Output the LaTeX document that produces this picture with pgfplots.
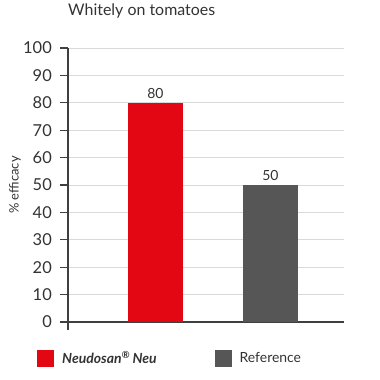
\documentclass[border=0pt]{standalone}
\usepackage{pgfplots}
\pgfplotsset{compat=1.18}
\usepackage{fontspec}
\setmainfont{Lato}
\definecolor{nred}{HTML}{E30613}
\definecolor{ngrey}{HTML}{575656}
\definecolor{gridc}{HTML}{D9D9D9}
\definecolor{axc}{HTML}{3F3F3F}
\definecolor{txt}{HTML}{333333}
\begin{document}
\begin{tikzpicture}
\useasboundingbox (-68bp,-58bp) rectangle (312bp,322bp);
\begin{axis}[
  at={(0,0)}, anchor=south west,
  scale only axis, width=276bp, height=274bp,
  ymin=0, ymax=100, ytick={0,10,...,100},
  xmin=-0.76, xmax=1.64, xtick=\empty,
  ybar, bar width=55bp,
  axis x line=bottom, axis y line=left,
  axis line style={-, draw=axc, line width=1.3bp},
  y axis line style={shorten <=-8bp},
  ymajorgrids, major grid style={draw=gridc, line width=0.9bp},
  tick align=outside, major tick length=8bp,
  tick style={draw=axc, line width=1.2bp},
  /pgf/number format/assume math mode=true,
  yticklabel style={font=\fontsize{16.5}{19}\selectfont, text=txt, inner sep=0pt, xshift=-8bp},
  every axis y label/.style={at={(axis description cs:-0.192,0.5)}, rotate=90, anchor=center, font=\fontsize{13}{15}\selectfont, text=txt},
  ylabel={\% efficacy},
  title={Whitely on tomatoes},
  title style={at={(axis description cs:0,1)}, anchor=base west, yshift=27bp, inner sep=0pt, font=\fontsize{16}{19}\selectfont, text=txt},
  nodes near coords,
  every node near coord/.append style={font=\fontsize{14}{16}\selectfont, text=txt, inner sep=0pt, yshift=4bp, anchor=south},
  legend style={at={(axis description cs:-0.1123,-0.1314)}, anchor=west, draw=none, fill=none, inner sep=0pt,
    legend columns=2, font=\fontsize{14}{16}\selectfont, text=txt,
    /tikz/every odd column/.append style={column sep=6bp},
    /tikz/every even column/.append style={column sep=56bp}},
  legend cell align=left,
  legend image code/.code={\fill[#1] (0bp,-8.5bp) rectangle (17bp,8.5bp);},
]
\addplot[fill=nred, draw=none, bar shift=0pt] coordinates {(0,80)};
\addlegendentry{\textbf{\textit{Neudosan\textsuperscript{\textregistered}\,Neu}}}
\addplot[fill=ngrey, draw=none, bar shift=0pt] coordinates {(1,50)};
\addlegendentry{Reference}
\end{axis}
\end{tikzpicture}
\end{document}
